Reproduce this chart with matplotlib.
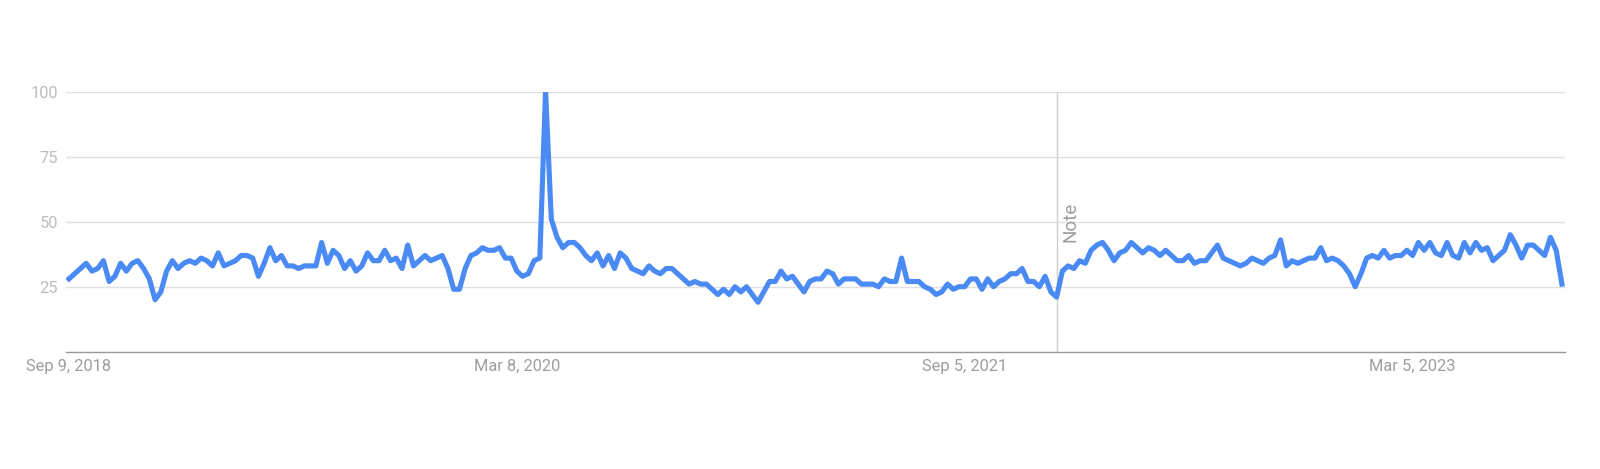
import pandas as pd
import numpy as np
import matplotlib
matplotlib.use('Agg')
import matplotlib.pyplot as plt
import matplotlib.dates as mdates

plt.rcParams['font.family'] = ['Roboto', 'DejaVu Sans']

# weekly interest, starting Sep 9, 2018
start_date = '2018-09-09'
interest = [
    28, 30, 32, 34, 31, 32, 35, 27, 29, 34, 31, 34, 35, 32, 28, 20, 23, 31, 35, 32, 34,
    35, 34, 36, 35, 33, 38, 33, 34, 35, 37, 37, 36, 29, 34, 40, 35, 37, 33, 33, 32, 33,
    33, 33, 42, 34, 39, 37, 32, 35, 31, 33, 38, 35, 35, 39, 35, 36, 32, 41, 33, 35, 37,
    35, 36, 37, 32, 24, 24, 32, 37, 38, 40, 39, 39, 40, 36, 36, 31, 29, 30, 35, 36, 100,
    51, 44, 40, 42, 42, 40, 37, 35, 38, 33, 37, 32, 38, 36, 32, 31, 30, 33, 31, 30, 32,
    32, 30, 28, 26, 27, 26, 26, 24, 22, 24, 22, 25, 23, 25, 22, 19, 23, 27, 27, 31, 28,
    29, 26, 23, 27, 28, 28, 31, 30, 26, 28, 28, 28, 26, 26, 26, 25, 28, 27, 27, 36, 27,
    27, 27, 25, 24, 22, 23, 26, 24, 25, 25, 28, 28, 24, 28, 25, 27, 28, 30, 30, 32, 27,
    27, 25, 29, 23, 21, 31, 33, 32, 35, 34, 39, 41, 42, 39, 35, 38, 39, 42, 40, 38, 40,
    39, 37, 39, 37, 35, 35, 37, 34, 35, 35, 38, 41, 36, 35, 34, 33, 34, 36, 35, 34, 36,
    37, 43, 33, 35, 34, 35, 36, 36, 40, 35, 36, 35, 33, 30, 25, 30, 36, 37, 36, 39, 36,
    37, 37, 39, 37, 42, 39, 42, 38, 37, 42, 37, 36, 42, 38, 42, 39, 40, 35, 37, 39, 45,
    41, 36, 41, 41, 39, 37, 44, 39, 26,
]
tick_dates = ['2018-09-09', '2020-03-08', '2021-09-05', '2023-03-05']
note_date = '2021-12-26'

dates = pd.date_range(start_date, periods=len(interest), freq='7D')

fig = plt.figure(figsize=(16, 4.69), dpi=100)
ax = fig.add_axes([0.0413, 0.2501, 0.978 - 0.0413, 0.5544])

ax.plot(dates, interest, color='#4a8af4', lw=3.7, zorder=3)

ax.set_ylim(0, 100)
ax.set_xlim(dates[0] - pd.Timedelta(days=3.5), dates[-1] + pd.Timedelta(days=3.5))

ax.set_yticks([25, 50, 75, 100])
ax.grid(axis='y', color='#e0e0e0', lw=1.0)
ax.set_axisbelow(True)

ticks = pd.to_datetime(tick_dates)
ax.set_xticks(ticks)
ax.set_xticklabels([d.strftime('%b ') + str(d.day) + d.strftime(', %Y') for d in ticks])

ax.tick_params(axis='x', length=0, pad=5, labelsize=11.8, labelcolor='#9e9e9e')
ax.tick_params(axis='y', length=0, pad=6, labelsize=11.8, labelcolor='#bdbdbd')

for side in ['top', 'right', 'left']:
    ax.spines[side].set_visible(False)
ax.spines['bottom'].set_color('#9a9a9a')
ax.spines['bottom'].set_linewidth(1.0)

# note marker
nd = pd.Timestamp(note_date)
ax.plot([nd, nd], [0, 100], color='#d0d0d0', lw=1.0, zorder=2)
ax.annotate('Note', xy=(nd, 42.3), xytext=(3.2, 0), textcoords='offset points',
            rotation=90, ha='left', va='bottom', color='#9e9e9e', fontsize=13.6)

fig.savefig('out.png', dpi=100, facecolor='white')
